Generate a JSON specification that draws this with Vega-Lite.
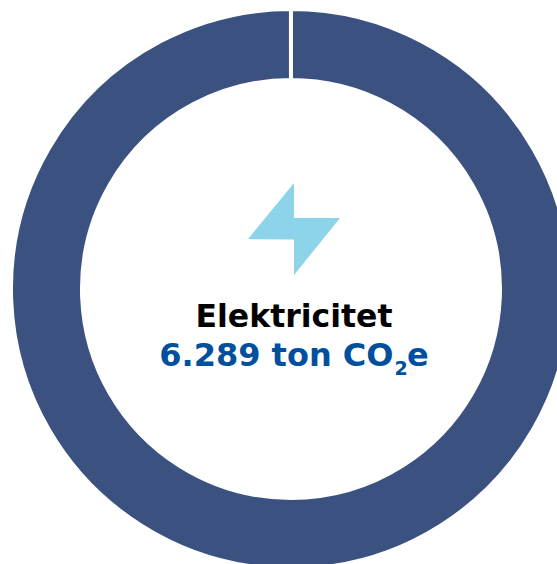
{"$schema":"https://vega.github.io/schema/vega-lite/v6.json","width":557,"height":564,"padding":0,"autosize":{"type":"none"},"background":"white","config":{"view":{"stroke":null}},"layer":[{"data":{"values":[{"kategori":"Elektricitet","ton":6289}]},"mark":{"type":"arc","radius":280,"radius2":209,"stroke":"white","strokeWidth":4,"color":"#3B5281"},"encoding":{"theta":{"field":"ton","type":"quantitative","scale":{"domain":[0,6289.2]}},"x":{"datum":291,"type":"quantitative","scale":{"domain":[0,557],"nice":false},"axis":null},"y":{"datum":289,"type":"quantitative","scale":{"domain":[0,564],"reverse":true,"nice":false},"axis":null}}},{"data":{"values":[{"ikon":"lyn"}]},"mark":{"type":"point","filled":true,"opacity":1,"strokeWidth":0,"size":8464,"color":"#8DD3E9","shape":"M0,-1L0,-0.24L1,-0.24L0,1L0,0.23L-1,0.22Z"},"encoding":{"x":{"datum":294,"type":"quantitative"},"y":{"datum":229,"type":"quantitative"}}},{"data":{"values":[{"tekst":"Elektricitet"}]},"mark":{"type":"text","font":"DejaVu Sans","fontWeight":"bold","fontSize":31.5,"color":"#000000","baseline":"alphabetic","align":"center"},"encoding":{"text":{"field":"tekst"},"x":{"datum":294,"type":"quantitative"},"y":{"datum":327,"type":"quantitative"}}},{"data":{"values":[{"tekst":"6.289 ton CO"}]},"mark":{"type":"text","font":"DejaVu Sans","fontWeight":"bold","fontSize":32,"color":"#00509E","baseline":"alphabetic","align":"right"},"encoding":{"text":{"field":"tekst"},"x":{"datum":393.5,"type":"quantitative"},"y":{"datum":366,"type":"quantitative"}}},{"data":{"values":[{"tekst":"2"}]},"mark":{"type":"text","font":"DejaVu Sans","fontWeight":"bold","fontSize":19,"color":"#00509E","baseline":"alphabetic","align":"left"},"encoding":{"text":{"field":"tekst"},"x":{"datum":394.5,"type":"quantitative"},"y":{"datum":375,"type":"quantitative"}}},{"data":{"values":[{"tekst":"e"}]},"mark":{"type":"text","font":"DejaVu Sans","fontWeight":"bold","fontSize":32,"color":"#00509E","baseline":"alphabetic","align":"left"},"encoding":{"text":{"field":"tekst"},"x":{"datum":407,"type":"quantitative"},"y":{"datum":366,"type":"quantitative"}}}]}
